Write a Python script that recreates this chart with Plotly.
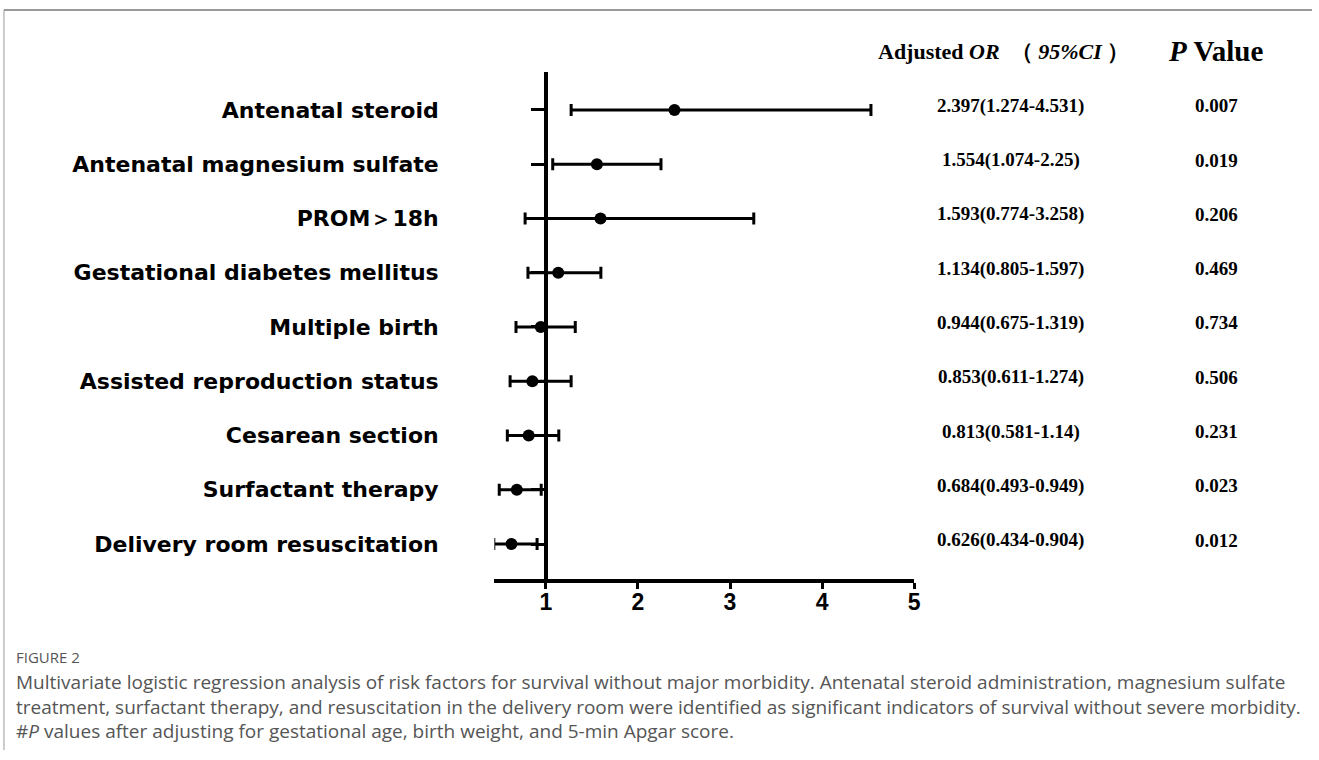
import plotly.graph_objects as go

# ---- data ----
factors = [
    "Antenatal steroid",
    "Antenatal magnesium sulfate",
    "PROM＞18h",
    "Gestational diabetes mellitus",
    "Multiple birth",
    "Assisted reproduction status",
    "Cesarean section",
    "Surfactant therapy",
    "Delivery room resuscitation",
]
or_values = [2.397, 1.554, 1.593, 1.134, 0.944, 0.853, 0.813, 0.684, 0.626]
ci_low = [1.274, 1.074, 0.774, 0.805, 0.675, 0.611, 0.581, 0.493, 0.434]
ci_high = [4.531, 2.25, 3.258, 1.597, 1.319, 1.274, 1.14, 0.949, 0.904]
or_labels = [
    "2.397(1.274-4.531)",
    "1.554(1.074-2.25)",
    "1.593(0.774-3.258)",
    "1.134(0.805-1.597)",
    "0.944(0.675-1.319)",
    "0.853(0.611-1.274)",
    "0.813(0.581-1.14)",
    "0.684(0.493-0.949)",
    "0.626(0.434-0.904)",
]
p_labels = ["0.007", "0.019", "0.206", "0.469", "0.734", "0.506", "0.231", "0.023", "0.012"]
x_ticks = [1, 2, 3, 4, 5]

caption_label = "FIGURE 2"
caption_lines = [
    "Multivariate logistic regression analysis of risk factors for survival without major morbidity. Antenatal steroid administration, magnesium sulfate",
    "treatment, surfactant therapy, and resuscitation in the delivery room were identified as significant indicators of survival without severe morbidity.",
    "#<i>P</i> values after adjusting for gestational age, birth weight, and 5-min Apgar score.",
]

W, H = 1319, 760
def px(x):
    return x / W
def py(y):
    return 1 - y / H

err_plus = [h - o for h, o in zip(ci_high, or_values)]
err_minus = [o - l for o, l in zip(or_values, ci_low)]

fig = go.Figure()
fig.add_trace(go.Scatter(
    x=or_values, y=factors, mode="markers",
    marker=dict(color="black", size=12, symbol="circle"),
    error_x=dict(type="data", symmetric=False, array=err_plus, arrayminus=err_minus,
                 color="black", thickness=3, width=6),
    showlegend=False, hoverinfo="skip",
))

serif = "Liberation Serif, Times New Roman, serif"
ann = []
for f, t, p in zip(factors, or_labels, p_labels):
    ann.append(dict(x=px(1016), xref="paper", y=f, yref="y", yshift=4, text=t,
                    showarrow=False, xanchor="center", yanchor="middle",
                    font=dict(family=serif, size=19, color="black", weight="bold")))
    ann.append(dict(x=px(1223), xref="paper", y=f, yref="y", yshift=4, text=p,
                    showarrow=False, xanchor="center", yanchor="middle",
                    font=dict(family=serif, size=19, color="black", weight="bold")))

ann.append(dict(x=px(1009), xref="paper", y=py(51), yref="paper",
                text="Adjusted <i>OR</i>  （ <i>95%CI</i> ）", showarrow=False,
                xanchor="center", yanchor="middle",
                font=dict(family=serif, size=22, color="black", weight="bold")))
ann.append(dict(x=px(1222), xref="paper", y=py(51), yref="paper",
                text="<i>P</i> Value", showarrow=False,
                xanchor="center", yanchor="middle",
                font=dict(family=serif, size=29, color="black", weight="bold")))

cap_font = "Open Sans, Roboto, sans-serif"
ann.append(dict(x=px(14), xref="paper", y=py(657), yref="paper", text=caption_label,
                showarrow=False, xanchor="left", yanchor="middle",
                font=dict(family=cap_font, size=15, color="#555555")))
ann.append(dict(x=px(14), xref="paper", y=py(706), yref="paper", text="<br>".join(caption_lines),
                showarrow=False, xanchor="left", yanchor="middle", align="left",
                font=dict(family=cap_font, size=19, color="#555555")))

shapes = [
    dict(type="line", xref="paper", yref="paper", x0=px(4), x1=1, y0=py(10), y1=py(10),
         line=dict(color="#999999", width=2)),
    dict(type="line", xref="paper", yref="paper", x0=px(4), x1=px(4), y0=py(10), y1=py(750),
         line=dict(color="#999999", width=1)),
]

fig.update_layout(
    autosize=True,
    margin=dict(l=0, r=0, t=0, b=0),
    paper_bgcolor="white", plot_bgcolor="white",
    annotations=ann, shapes=shapes,
    xaxis=dict(
        domain=[px(497), px(919)], range=[0.44, 5.0],
        tickvals=x_ticks, ticktext=[str(v) for v in x_ticks],
        showline=True, linecolor="black", linewidth=4,
        ticks="outside", ticklen=6, tickwidth=3, tickcolor="black",
        showgrid=False, zeroline=False,
        ticklabelstandoff=-7,
        tickfont=dict(family="Liberation Sans, Arial, sans-serif", size=23, color="black", weight="bold"),
        anchor="y", fixedrange=True,
    ),
    yaxis=dict(
        domain=[py(579), py(72)],
        type="category", categoryorder="array", categoryarray=factors,
        range=[8.645, -0.7],
        anchor="free", position=px(549),
        showline=True, linecolor="black", linewidth=4,
        ticks="outside", ticklen=13, tickwidth=3, tickcolor="black",
        showgrid=False, zeroline=False,
        ticklabelstandoff=88,
        tickfont=dict(family="DejaVu Sans, sans-serif", size=22, color="black", weight="bold"),
        fixedrange=True,
    ),
)

fig.write_html(
    "out.html",
    config={"displayModeBar": False, "staticPlot": True, "responsive": True},
    default_width="100vw", default_height="100vh",
    post_script="document.body.style.margin='0';document.body.style.overflow='hidden';window.dispatchEvent(new Event('resize'));",
)
